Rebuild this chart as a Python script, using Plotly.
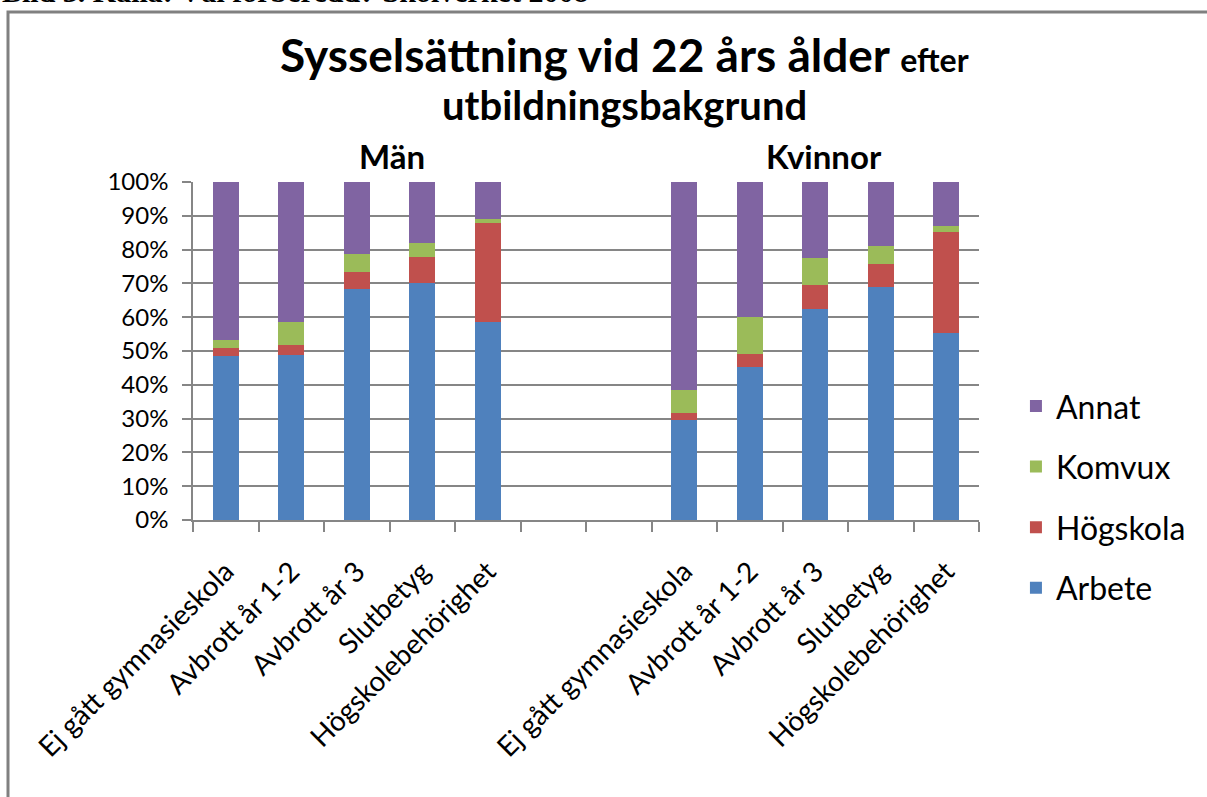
import plotly.graph_objects as go

# ---- data ----
categories = ["Ej gått gymnasieskola", "Avbrott år 1-2", "Avbrott år 3",
              "Slutbetyg", "Högskolebehörighet"]
groups = ["Män", "Kvinnor"]

men_arbete   = [48.5, 48.8, 68.3, 70.0, 58.5]
men_hogskola = [2.3, 2.9, 5.0, 7.7, 29.3]
men_komvux   = [2.4, 6.8, 5.3, 4.2, 1.2]
men_annat    = [46.8, 41.5, 21.4, 18.1, 11.0]

women_arbete   = [29.7, 45.2, 62.4, 68.9, 55.3]
women_hogskola = [1.9, 4.0, 7.1, 6.8, 29.8]
women_komvux   = [6.8, 10.8, 7.9, 5.3, 1.8]
women_annat    = [61.6, 40.0, 22.6, 19.0, 13.1]

series_names = ["Arbete", "Högskola", "Komvux", "Annat"]
colors = ["#4F81BD", "#C0504D", "#9BBB59", "#8064A2"]
legend_ranks = [4, 3, 2, 1]

men = [men_arbete, men_hogskola, men_komvux, men_annat]
women = [women_arbete, women_hogskola, women_komvux, women_annat]

# slot positions: 5 men, 2 empty, 5 women
n = len(categories)
men_x = list(range(n))
women_x = [i + n + 2 for i in range(n)]
all_x = men_x + women_x
tick_text = categories + categories

FONT = "Lato"
GRID = "#868686"

fig = go.Figure()
for name, col, rk, mv, wv in zip(series_names, colors, legend_ranks, men, women):
    fig.add_trace(go.Bar(
        x=all_x, y=mv + wv, name=name, marker_color=col,
        marker_line_width=0, width=0.4, legendgroup=name, legendrank=rk,
    ))

fig.update_layout(
    width=1207, height=797,
    barmode="stack",
    paper_bgcolor="white", plot_bgcolor="white",
    margin=dict(l=193, r=228, t=182, b=277),
    font=dict(family=FONT, color="black"),
    showlegend=True,
    legend=dict(
        x=1.047, xanchor="left", y=0.418, yanchor="top",
        traceorder="grouped", tracegroupgap=16,
        font=dict(size=32, family=FONT, color="black"),
        bgcolor="rgba(0,0,0,0)",
    ),
    xaxis=dict(
        range=[-0.5, 2 * n + 1.5],
        tickmode="array", tickvals=all_x, ticktext=tick_text,
        tickangle=-45, ticks="", showgrid=False,
        tickfont=dict(size=28, family=FONT, color="black"),
        ticklabelstandoff=22,
        showline=True, linecolor=GRID, linewidth=2,
        minor=dict(tick0=-0.5, dtick=1, ticks="outside", ticklen=10,
                   tickcolor=GRID, tickwidth=2, showgrid=False),
        zeroline=False, fixedrange=True,
    ),
    yaxis=dict(
        range=[0, 100], dtick=10, ticksuffix="%",
        showgrid=True, gridcolor=GRID, gridwidth=1.5,
        ticks="outside", ticklen=9, tickcolor=GRID, tickwidth=1.5,
        showline=True, linecolor=GRID, linewidth=1.5,
        tickfont=dict(size=24, family=FONT, color="black"),
        ticklabelstandoff=9,
        zeroline=False, fixedrange=True,
    ),
    bargap=0.6,
)

# frame around the chart
fig.add_shape(type="rect", xref="paper", yref="paper",
              x0=(8 - 193) / 786, x1=1.4, y0=-0.9, y1=(520 - 12) / 338,
              line=dict(color="#808080", width=3), fillcolor="rgba(0,0,0,0)",
              layer="below")

# clipped caption at the top of the page
fig.add_annotation(
    text="<b>Bild 3. Källa: Väl förberedd? Skolverket 2008</b>",
    xref="paper", yref="paper", x=(0 - 193) / 786, xanchor="left",
    y=(520 - 10) / 338, yanchor="bottom", showarrow=False,
    font=dict(family="Liberation Serif", size=30, color="black"),
)

# title
fig.add_annotation(
    text="<b>Sysselsättning vid 22 års ålder <span style='font-size:32px'>efter</span></b>",
    xref="paper", yref="paper", x=(624 - 193) / 786, xanchor="center",
    y=(520 - 55) / 338, yanchor="middle", showarrow=False,
    font=dict(family=FONT, size=46, color="black"),
)
fig.add_annotation(
    text="<b>utbildningsbakgrund</b>",
    xref="paper", yref="paper", x=(624 - 193) / 786, xanchor="center",
    y=(520 - 105) / 338, yanchor="middle", showarrow=False,
    font=dict(family=FONT, size=40, color="black"),
)

# group labels
group_centers = [392, 824]
for g, cx in zip(groups, group_centers):
    fig.add_annotation(
        text=f"<b>{g}</b>", xref="paper", yref="paper",
        x=(cx - 193) / 786, xanchor="center",
        y=(520 - 156) / 338, yanchor="middle", showarrow=False,
        font=dict(family=FONT, size=33, color="black"),
    )

fig.write_html("out.html", config={"displayModeBar": False},
               post_script="document.body.style.margin='0px';")
